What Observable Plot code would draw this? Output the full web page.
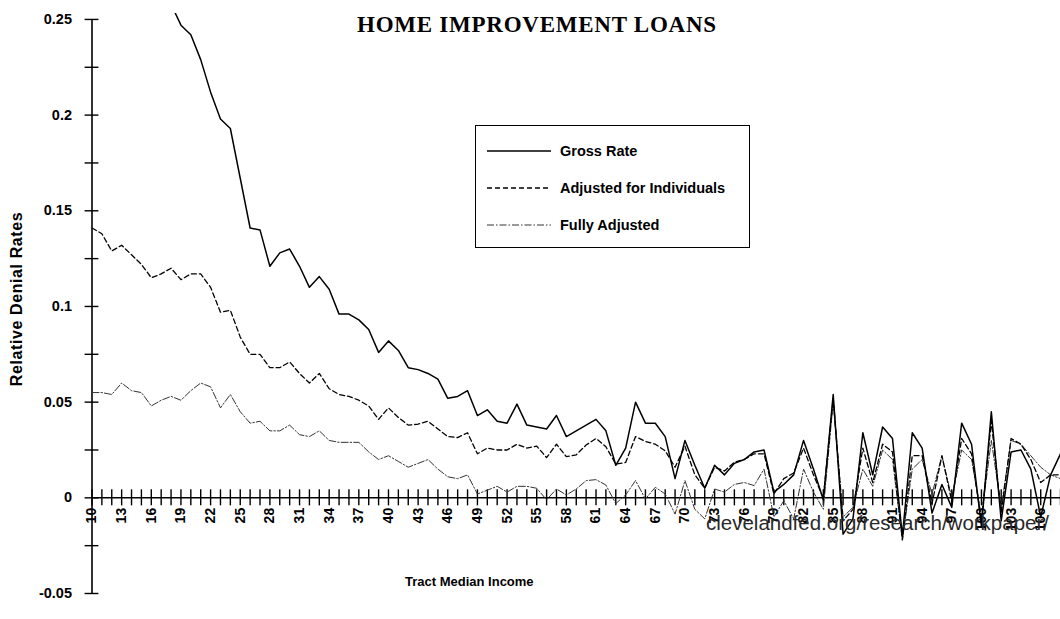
<!DOCTYPE html>
<html><head><meta charset="utf-8">
<script src="https://cdn.jsdelivr.net/npm/d3@7"></script>
<script src="https://cdn.jsdelivr.net/npm/@observablehq/plot@0.6"></script>
<style>
body{margin:0;background:#fff;}
#wrap{position:relative;width:1060px;height:619px;overflow:hidden;font-family:"Liberation Sans",Arial,sans-serif;}
.abs{position:absolute;white-space:nowrap;}
#title{left:357px;top:12px;font-family:"Liberation Serif","Times New Roman",serif;font-weight:bold;font-size:23px;letter-spacing:0.75px;}
#legend{left:475px;top:125px;width:273px;height:121px;border:1.5px solid #000;background:#fff;}
.item{position:absolute;left:11px;height:20px;display:flex;align-items:center;font-weight:bold;font-size:14.5px;}
.item svg{margin-right:9px;}
#xtitle{left:405px;top:574px;font-weight:bold;font-size:13px;}
#ytitle{left:17px;top:299px;font-weight:bold;font-size:16px;letter-spacing:0.6px;transform:translate(-50%,-50%) rotate(-90deg);}
#wm{left:706px;top:511px;font-size:20.5px;color:#2a2a2a;}
</style>
</head><body><div id="wrap"></div>
<script>
// categories: tract median income
const incomes = [10,11,12,13,14,15,16,17,18,19,20,21,22,23,24,25,26,27,28,29,30,31,32,33,34,35,36,37,38,39,40,41,42,43,44,45,46,47,48,49,50,51,52,53,54,55,56,57,58,59,60,61,62,63,64,65,66,67,68,69,70,71,72,73,74,75,76,77,78,79,80,81,82,83,84,85,86,87,88,89,90,91,92,93,94,95,96,97,98,99,100,101,102,103,104,105,106,107,108];
const gross = [0.36,0.35,0.34,0.33,0.32,0.31,0.295,0.28,0.258,0.247,0.242,0.229,0.212,0.198,0.193,0.167,0.141,0.140,0.121,0.128,0.130,0.121,0.110,0.1156,0.109,0.096,0.096,0.093,0.088,0.076,0.082,0.077,0.068,0.067,0.065,0.062,0.052,0.053,0.056,0.043,0.046,0.040,0.039,0.049,0.038,0.037,0.036,0.043,0.032,0.035,0.038,0.041,0.035,0.017,0.026,0.050,0.039,0.039,0.032,0.010,0.030,0.017,0.005,0.017,0.012,0.018,0.020,0.024,0.025,0.003,0.007,0.012,0.030,0.015,-0.001,0.054,-0.019,-0.011,0.034,0.012,0.037,0.031,-0.020,0.034,0.026,-0.008,0.007,-0.005,0.039,0.028,-0.015,0.045,-0.012,0.024,0.025,0.015,-0.010,0.012,0.023];
const adjusted = [0.141,0.138,0.129,0.132,0.127,0.122,0.115,0.117,0.120,0.114,0.117,0.117,0.110,0.097,0.098,0.084,0.075,0.075,0.068,0.068,0.071,0.065,0.060,0.065,0.057,0.054,0.053,0.051,0.048,0.041,0.047,0.042,0.038,0.0385,0.040,0.036,0.032,0.0315,0.034,0.023,0.026,0.025,0.025,0.028,0.026,0.027,0.021,0.028,0.0215,0.0225,0.0276,0.031,0.0267,0.0176,0.0185,0.032,0.0295,0.028,0.0246,0.016,0.027,0.012,0.005,0.016,0.014,0.0186,0.020,0.023,0.023,0.002,0.010,0.013,0.026,0.012,0.000,0.052,-0.012,-0.006,0.026,0.008,0.028,0.024,-0.022,0.022,0.022,-0.003,0.022,-0.002,0.031,0.023,-0.012,0.040,-0.008,0.031,0.028,0.020,0.008,0.012,0.012];
const fully = [0.055,0.055,0.054,0.060,0.056,0.055,0.048,0.051,0.053,0.051,0.056,0.060,0.058,0.047,0.054,0.045,0.039,0.040,0.035,0.035,0.038,0.033,0.032,0.035,0.030,0.029,0.029,0.029,0.024,0.020,0.022,0.019,0.016,0.018,0.020,0.015,0.011,0.010,0.012,0.002,0.004,0.006,0.003,0.006,0.006,0.005,-0.001,0.0046,0.0015,0.0046,0.009,0.0095,0.0067,-0.003,0.0015,0.009,-0.0006,0.0055,0.002,-0.0085,0.009,-0.006,-0.011,0.0046,0.003,0.007,0.008,0.0064,0.015,-0.010,-0.0015,-0.011,0.015,0.003,-0.006,0.050,-0.010,-0.005,0.015,0.006,0.025,0.020,-0.022,0.015,0.020,0.002,0.022,0.000,0.025,0.020,-0.010,0.030,-0.005,0.030,0.028,0.022,0.016,0.012,0.010];
const seriesNames = ["Gross Rate","Adjusted for Individuals","Fully Adjusted"];
const yTickValues = [-0.05,-0.025,0,0.025,0.05,0.075,0.1,0.125,0.15,0.175,0.2,0.225,0.25];
const yLabelValues = [-0.05,0,0.05,0.1,0.15,0.2,0.25];
const yLabelText = ["-0.05","0","0.05","0.1","0.15","0.2","0.25"];
const xLabelValues = [10,13,16,19,22,25,28,31,34,37,40,43,46,49,52,55,58,61,64,67,70,73,76,79,82,85,88,91,94,97,100,103,106];

const toRows = (vals) => incomes.map((k,i)=>({k, v: vals[i]}));
const styles = [
  {stroke:"#000", strokeWidth:1.5},
  {stroke:"#000", strokeWidth:1.3, strokeDasharray:"5,3"},
  {stroke:"#333", strokeWidth:1, strokeDasharray:"7,2,1.5,2"}
];

const chart = Plot.plot({
  width:1060, height:619,
  marginLeft:91.5, marginRight:0, marginTop:13, marginBottom:26,
  style:{fontFamily:"Liberation Sans, Arial, sans-serif", background:"transparent", color:"#000"},
  x:{domain:[10,108], axis:null},
  y:{domain:[-0.05,0.2531], axis:null},
  marks:[
    Plot.ruleX([10], {y1:-0.05, y2:0.25, stroke:"#000", strokeWidth:1.6}),
    Plot.ruleY([0], {x1:10, x2:108, stroke:"#000", strokeWidth:1.6}),
    Plot.ruleY(yTickValues, {y:d=>d, x1:9.3, x2:10.7, stroke:"#000", strokeWidth:1.4}),
    Plot.ruleX(incomes, {x:d=>d, y1:-0.0042, y2:0.0042, stroke:"#000", strokeWidth:1.4}),
    Plot.text(yLabelValues, {x:10, y:d=>d, text:(d,i)=>yLabelText[i], textAnchor:"end", dx:-20, fontWeight:"bold", fontSize:14.5, fill:"#000"}),
    Plot.text(xLabelValues, {x:d=>d, y:0, text:d=>String(d), rotate:-90, textAnchor:"end", dy:10, fontWeight:"bold", fontSize:14, fill:"#000"}),
    Plot.line(toRows(fully), {x:"k", y:"v", clip:true, ...styles[2]}),
    Plot.line(toRows(adjusted), {x:"k", y:"v", clip:true, ...styles[1]}),
    Plot.line(toRows(gross), {x:"k", y:"v", clip:true, ...styles[0]})
  ]
});
const wrap = document.getElementById("wrap");
wrap.appendChild(chart);

function addDiv(id, text){const d=document.createElement("div");d.className="abs";d.id=id;d.textContent=text;wrap.appendChild(d);return d;}
addDiv("title","HOME IMPROVEMENT LOANS");
addDiv("xtitle","Tract Median Income");
addDiv("ytitle","Relative Denial Rates");
addDiv("wm","clevelandfed.org/research/workpaper/");

const legend = document.createElement("div");
legend.className="abs"; legend.id="legend";
seriesNames.forEach((name,i)=>{
  const it=document.createElement("div"); it.className="item"; it.style.top=(15+i*37)+"px";
  const s=d3.create("svg").attr("width",64).attr("height",10);
  s.append("line").attr("x1",0).attr("x2",64).attr("y1",5).attr("y2",5)
    .attr("stroke",styles[i].stroke).attr("stroke-width",styles[i].strokeWidth)
    .attr("stroke-dasharray",styles[i].strokeDasharray||null);
  it.appendChild(s.node());
  const t=document.createElement("span"); t.textContent=name; it.appendChild(t);
  legend.appendChild(it);
});
wrap.appendChild(legend);
</script>
</body></html>
